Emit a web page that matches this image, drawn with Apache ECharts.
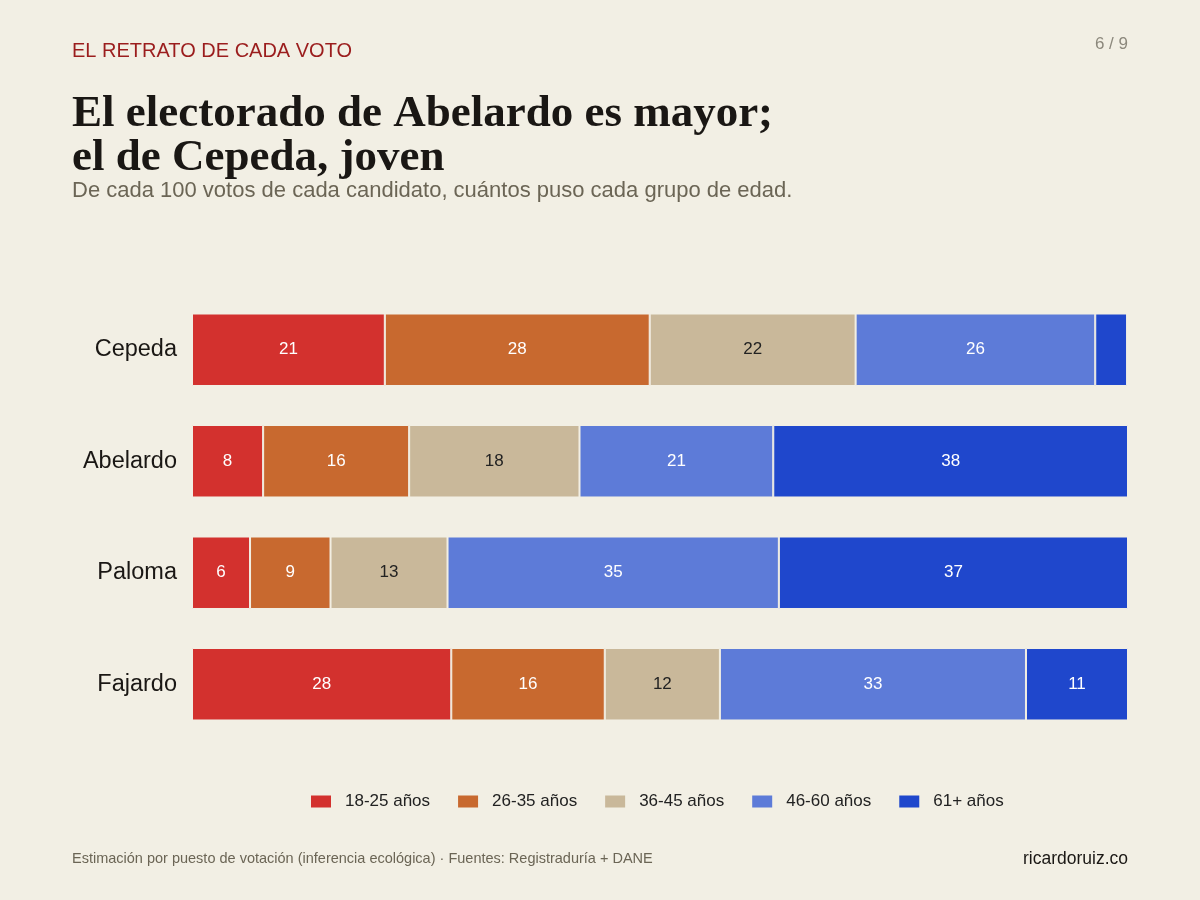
<!DOCTYPE html>
<html>
<head>
<meta charset="utf-8">
<script src="https://cdn.jsdelivr.net/npm/echarts@6/dist/echarts.min.js"></script>
<style>
  html, body { margin: 0; padding: 0; background: #f2efe4; }
  #chart { width: 1200px; height: 900px; }
</style>
</head>
<body>
<div id="chart"></div>
<script>
// candidatos (de arriba hacia abajo)
const candidatos = ['Cepeda', 'Abelardo', 'Paloma', 'Fajardo'];
const grupos = ['18-25 años', '26-35 años', '36-45 años', '46-60 años', '61+ años'];
const colores = ['#d3312e', '#c8692f', '#c9b89a', '#5d7bd8', '#1f47cc'];
const coloresTexto = ['#ffffff', '#ffffff', '#222222', '#ffffff', '#ffffff'];

// votos de cada 100, por grupo de edad (orden de candidatos)
const edad18a25 = [20.6, 7.6, 6.2, 27.7];
const edad26a35 = [28.3, 15.6, 8.6, 16.4];
const edad36a45 = [22.0, 18.2, 12.5, 12.3];
const edad46a60 = [25.6, 20.7, 35.4, 32.7];
const edad61mas = [3.4, 37.9, 37.3, 10.9];
const valores = [edad18a25, edad26a35, edad36a45, edad46a60, edad61mas];

const chart = echarts.init(document.getElementById('chart'));

const sans = 'Liberation Sans, Arial, sans-serif';

const series = grupos.map((g, i) => ({
  name: g,
  type: 'bar',
  stack: 'total',
  barWidth: '65%',
  data: valores[i],
  itemStyle: {
    color: colores[i],
    borderColor: '#f2efe4',
    borderWidth: 1
  },
  label: {
    show: true,
    position: 'inside',
    color: coloresTexto[i],
    fontFamily: sans,
    fontSize: 17,
    formatter: p => (p.value < 4 ? '' : Math.round(p.value))
  },
  emphasis: { disabled: true }
}));

chart.setOption({
  backgroundColor: '#f2efe4',
  animation: false,
  title: [
    {
      text: 'EL RETRATO DE CADA VOTO',
      left: 72, top: 41, padding: 0,
      textStyle: { fontFamily: sans, fontSize: 20, fontWeight: 'normal', color: '#9b1d1d' }
    },
    {
      text: 'El electorado de Abelardo es mayor;\nel de Cepeda, joven',
      left: 72, top: 92, padding: 0,
      textStyle: { fontFamily: 'Liberation Serif, DejaVu Serif, serif', fontSize: 45, fontWeight: 'bold', color: '#1a1714', lineHeight: 44 }
    },
    {
      text: 'De cada 100 votos de cada candidato, cuántos puso cada grupo de edad.',
      left: 72, top: 180, padding: 0,
      textStyle: { fontFamily: sans, fontSize: 22, fontWeight: 'normal', color: '#6b6555' }
    },
    {
      text: '6 / 9',
      right: 72, top: 36, padding: 0,
      textStyle: { fontFamily: sans, fontSize: 17, fontWeight: 'normal', color: '#8c887c' }
    },
    {
      text: 'Estimación por puesto de votación (inferencia ecológica) · Fuentes: Registraduría + DANE',
      left: 72, top: 851, padding: 0,
      textStyle: { fontFamily: sans, fontSize: 14.5, fontWeight: 'normal', color: '#6b6555' }
    },
    {
      text: 'ricardoruiz.co',
      right: 72, top: 850, padding: 0,
      textStyle: { fontFamily: sans, fontSize: 17.5, fontWeight: 'normal', color: '#1a1714' }
    }
  ],
  legend: {
    data: grupos,
    left: 309, top: 793, padding: 0,
    itemWidth: 22, itemHeight: 14, itemGap: 26,
    icon: 'rect',
    textStyle: { fontFamily: sans, fontSize: 17, color: '#222', padding: [0, 0, 0, 8] }
  },
  grid: { left: 192, right: 72, top: 294, bottom: 160 },
  xAxis: {
    type: 'value', min: 0, max: 100, show: false
  },
  yAxis: {
    type: 'category',
    data: candidatos,
    inverse: true,
    axisLine: { show: false },
    axisTick: { show: false },
    axisLabel: { fontFamily: sans, fontSize: 23.5, color: '#1a1714', margin: 15 }
  },
  series: series
});
</script>
</body>
</html>
